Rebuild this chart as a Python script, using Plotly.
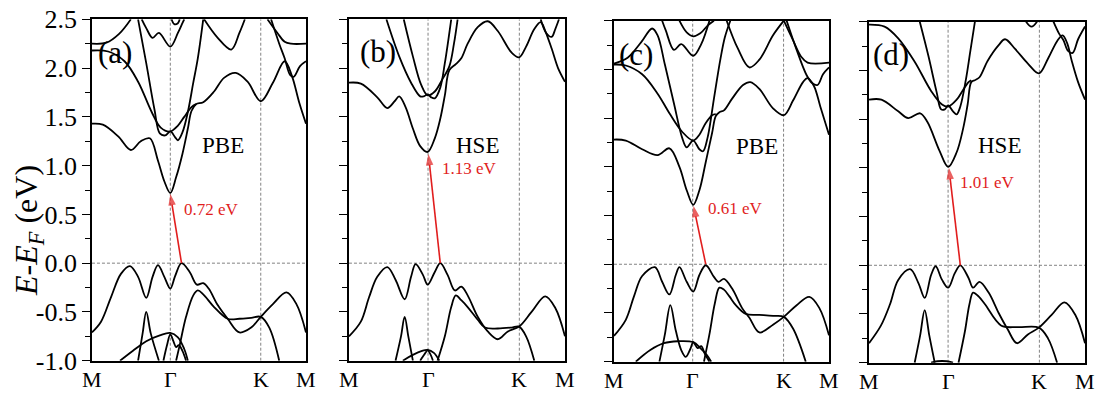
import plotly.graph_objects as go

# ---------------- axis values ----------------
K_TICKS = [0.0, 0.866, 1.866, 2.366]
K_LABELS = ["M", "Γ", "K", "M"]
E_TICKS = [-1.0, -0.5, 0.0, 0.5, 1.0, 1.5, 2.0, 2.5]
E_LABELS = ["-1.0", "-0.5", "0.0", "0.5", "1.0", "1.5", "2.0", "2.5"]

# ---------------- panel (a) PBE ----------------
A_VB1 = [(0, -0.71), (0.10, -0.60), (0.21, -0.35), (0.32, -0.11), (0.42, -0.03), (0.51, -0.14), (0.60, -0.355),
         (0.67, -0.14), (0.73, -0.02), (0.80, -0.14), (0.866, -0.26), (0.92, -0.13), (0.99, 0.0), (1.08, -0.09),
         (1.16, -0.22), (1.23, -0.205), (1.29, -0.26), (1.39, -0.43), (1.50, -0.57), (1.63, -0.71), (1.76, -0.66),
         (1.866, -0.55), (2.00, -0.42), (2.15, -0.30), (2.26, -0.42), (2.366, -0.71)]
A_VB2 = [(0.93, -1.0), (0.97, -0.84), (1.04, -0.55), (1.12, -0.33), (1.17, -0.28), (1.23, -0.32), (1.35, -0.45),
         (1.50, -0.57), (1.63, -0.57), (1.76, -0.56), (1.866, -0.55), (1.96, -0.66), (2.07, -1.0)]
A_L1 = [(0.31, -1.0), (0.45, -0.90), (0.60, -0.80), (0.75, -0.74), (0.866, -0.715), (0.95, -0.76), (1.02, -0.88), (1.06, -1.0)]
A_L2 = [(0.51, -1.0), (0.56, -0.72), (0.60, -0.50), (0.65, -0.72), (0.74, -1.0)]
A_L3 = [(0.79, -1.0), (0.83, -0.84), (0.866, -0.73), (0.90, -0.80), (0.93, -0.86), (0.96, -0.84), (1.00, -0.90), (1.04, -1.0)]
A_CB1 = [(0, 1.43), (0.12, 1.42), (0.29, 1.30), (0.43, 1.16), (0.54, 1.25), (0.64, 1.28), (0.73, 1.05), (0.80, 0.84),
         (0.866, 0.72), (0.93, 0.88), (1.00, 1.12), (1.06, 1.38), (1.10, 1.56), (1.15, 1.63), (1.23, 1.65), (1.35, 1.76),
         (1.46, 1.90), (1.59, 1.95), (1.72, 1.86), (1.866, 1.66), (2.00, 1.85), (2.13, 2.07), (2.21, 1.92), (2.29, 1.65),
         (2.366, 1.43)]
A_V = [(0, 2.18), (0.18, 2.17), (0.36, 2.07), (0.51, 1.86), (0.66, 1.55), (0.76, 1.39), (0.866, 1.35), (0.95, 1.41),
       (1.02, 1.50), (1.10, 1.60), (1.15, 1.63)]
A_W = [(0.51, 2.50), (0.60, 2.05), (0.69, 1.58), (0.75, 1.33), (0.81, 1.31), (0.866, 1.35), (0.92, 1.29), (0.95, 1.26),
       (1.00, 1.34), (1.06, 1.55), (1.12, 1.85), (1.17, 2.10), (1.23, 2.50)]
A_Q = [(1.98, 2.50), (2.07, 2.25), (2.13, 2.10), (2.19, 1.93), (2.23, 1.91), (2.30, 2.02), (2.366, 2.07)]
A_T1 = [(0, 2.25), (0.16, 2.26), (0.30, 2.35), (0.43, 2.50)]
A_T2 = [(0.55, 2.50), (0.60, 2.41), (0.67, 2.31), (0.74, 2.36), (0.866, 2.22), (0.95, 2.36), (1.00, 2.46), (1.02, 2.50)]
A_T3 = [(1.24, 2.50), (1.39, 2.31), (1.54, 2.19), (1.63, 2.36), (1.69, 2.50)]
A_T4 = [(1.94, 2.50), (2.05, 2.36), (2.13, 2.27), (2.20, 2.25), (2.366, 2.25)]
A_T5 = [(0.88, 2.50), (0.91, 2.45), (0.95, 2.46), (0.97, 2.50)]

# ---------------- panel (b) HSE ----------------
B_VB1 = [(0, -0.75), (0.13, -0.60), (0.22, -0.35), (0.31, -0.14), (0.42, -0.04), (0.51, -0.17), (0.61, -0.37),
         (0.68, -0.14), (0.73, -0.01), (0.81, -0.12), (0.862, -0.22), (0.94, -0.09), (1.00, 0.0), (1.08, -0.12),
         (1.16, -0.28), (1.23, -0.24), (1.30, -0.33), (1.41, -0.55), (1.52, -0.70), (1.63, -0.78), (1.74, -0.70),
         (1.863, -0.65), (2.00, -0.50), (2.15, -0.34), (2.26, -0.46), (2.366, -0.75)]
B_VB2 = [(0.97, -1.0), (1.05, -0.75), (1.12, -0.45), (1.17, -0.33), (1.23, -0.38), (1.30, -0.45), (1.41, -0.58),
         (1.49, -0.66), (1.63, -0.67), (1.78, -0.66), (1.863, -0.65), (1.94, -0.75), (2.03, -1.0)]
B_L1 = [(0.59, -1.0), (0.70, -0.94), (0.80, -0.90), (0.862, -0.89), (0.93, -0.92), (0.99, -1.0)]
B_L2 = [(0.51, -1.0), (0.57, -0.75), (0.61, -0.55), (0.65, -0.75), (0.70, -1.0)]
B_L3 = [(0.78, -1.0), (0.83, -0.93), (0.862, -0.895), (0.89, -0.93), (0.92, -1.0)]
B_CB1 = [(0, 1.85), (0.13, 1.84), (0.31, 1.70), (0.42, 1.59), (0.50, 1.66), (0.55, 1.71), (0.62, 1.60), (0.70, 1.38),
         (0.78, 1.20), (0.862, 1.14), (0.94, 1.28), (1.00, 1.48), (1.05, 1.72), (1.10, 1.98), (1.17, 2.04), (1.23, 2.10),
         (1.30, 2.25), (1.41, 2.42), (1.52, 2.48), (1.63, 2.38), (1.78, 2.16), (1.863, 2.11), (1.94, 2.22), (2.03, 2.40),
         (2.10, 2.47), (2.15, 2.38), (2.22, 2.20), (2.29, 2.00), (2.366, 1.86)]
B_W = [(0.41, 2.50), (0.55, 2.12), (0.68, 1.85), (0.78, 1.71), (0.82, 1.71), (0.862, 1.73), (0.90, 1.70), (0.94, 1.69),
       (1.00, 1.80), (1.05, 2.05), (1.12, 2.50)]
B_V = [(0.60, 2.50), (0.70, 2.12), (0.79, 1.83), (0.862, 1.72), (0.94, 1.76), (1.02, 1.88), (1.10, 2.02), (1.15, 2.25),
       (1.19, 2.50)]
B_Q = [(2.10, 2.50), (2.16, 2.36), (2.22, 2.32), (2.26, 2.40), (2.30, 2.50)]

# ---------------- panel (c) PBE ----------------
C_VB1 = [(0, -0.735), (0.13, -0.57), (0.22, -0.33), (0.31, -0.12), (0.45, -0.03), (0.53, -0.18), (0.61, -0.31),
         (0.68, -0.11), (0.72, -0.03), (0.80, -0.18), (0.872, -0.28), (0.94, -0.11), (1.01, -0.01), (1.10, -0.13),
         (1.15, -0.18), (1.21, -0.15), (1.30, -0.25), (1.41, -0.45), (1.49, -0.55), (1.60, -0.70), (1.75, -0.62),
         (1.869, -0.54), (2.01, -0.42), (2.15, -0.335), (2.26, -0.45), (2.366, -0.73)]
C_VB2 = [(0.99, -1.0), (1.05, -0.72), (1.11, -0.40), (1.16, -0.24), (1.21, -0.26), (1.27, -0.33), (1.34, -0.42),
         (1.45, -0.51), (1.60, -0.52), (1.75, -0.53), (1.869, -0.54), (1.97, -0.66), (2.11, -1.0)]
C_L1 = [(0.24, -1.0), (0.40, -0.88), (0.55, -0.81), (0.70, -0.79), (0.872, -0.80), (0.95, -0.86), (1.02, -0.93), (1.07, -1.0)]
C_L2 = [(0.50, -1.0), (0.56, -0.72), (0.62, -0.42), (0.68, -0.68), (0.74, -0.88), (0.79, -0.95), (0.84, -0.87),
        (0.872, -0.80), (0.92, -0.86), (0.96, -0.84), (1.00, -0.92), (1.05, -1.0)]
C_CB1 = [(0, 1.28), (0.13, 1.27), (0.31, 1.18), (0.48, 1.12), (0.61, 1.19), (0.72, 1.00), (0.80, 0.76), (0.872, 0.61),
         (0.94, 0.76), (1.01, 1.05), (1.08, 1.35), (1.12, 1.52), (1.16, 1.56), (1.21, 1.58), (1.30, 1.70), (1.42, 1.84),
         (1.50, 1.87), (1.60, 1.80), (1.75, 1.60), (1.869, 1.53), (1.97, 1.68), (2.08, 1.87), (2.13, 1.91), (2.20, 1.83),
         (2.27, 1.62), (2.366, 1.33)]
C_V = [(0, 2.05), (0.13, 2.04), (0.31, 1.95), (0.48, 1.75), (0.61, 1.55), (0.75, 1.36), (0.872, 1.27), (0.94, 1.33),
       (1.01, 1.45), (1.08, 1.53), (1.12, 1.54)]
C_W = [(0, 2.06), (0.15, 2.12), (0.30, 2.28), (0.42, 2.42), (0.48, 2.35), (0.56, 2.05), (0.66, 1.65), (0.75, 1.30),
       (0.80, 1.20), (0.872, 1.27), (0.94, 1.18), (0.98, 1.16), (1.03, 1.30), (1.10, 1.70), (1.17, 2.10), (1.22, 2.33),
       (1.28, 2.50)]
C_T1 = [(0.53, 2.50), (0.57, 2.40), (0.66, 2.20), (0.74, 2.26), (0.872, 2.14), (0.96, 2.26), (1.05, 2.50)]
C_T2 = [(0.72, 2.50), (0.80, 2.38), (0.872, 2.34), (0.95, 2.37), (1.03, 2.45), (1.10, 2.50)]
C_T3 = [(1.24, 2.50), (1.36, 2.22), (1.49, 2.02), (1.60, 2.10), (1.75, 2.35), (1.869, 2.50)]
C_T4 = [(1.869, 2.50), (1.97, 2.30), (2.06, 2.13), (2.13, 2.07), (2.366, 2.07)]
C_Q = [(1.90, 2.50), (2.01, 2.20), (2.12, 1.94), (2.18, 1.86), (2.24, 1.84), (2.30, 1.95), (2.366, 2.02)]

# ---------------- panel (d) HSE ----------------
D_VB1 = [(0, -0.80), (0.13, -0.62), (0.23, -0.40), (0.32, -0.15), (0.45, -0.04), (0.54, -0.18), (0.61, -0.335),
         (0.68, -0.10), (0.73, -0.01), (0.80, -0.15), (0.867, -0.23), (0.94, -0.08), (1.00, 0.0), (1.09, -0.13),
         (1.14, -0.23), (1.21, -0.17), (1.31, -0.28), (1.42, -0.49), (1.52, -0.66), (1.62, -0.80), (1.74, -0.71),
         (1.861, -0.64), (2.00, -0.51), (2.14, -0.38), (2.26, -0.51), (2.366, -0.80)]
D_VB2 = [(0.98, -1.0), (1.05, -0.68), (1.10, -0.40), (1.14, -0.28), (1.20, -0.32), (1.27, -0.40), (1.45, -0.62),
         (1.63, -0.635), (1.861, -0.64), (1.96, -0.75), (2.06, -1.0)]
D_L1 = [(0.68, -1.0), (0.75, -0.985), (0.85, -0.985), (0.92, -1.0)]
D_L2 = [(0.50, -1.0), (0.56, -0.72), (0.61, -0.46), (0.66, -0.72), (0.72, -1.0)]
D_CB1 = [(0, 1.70), (0.135, 1.70), (0.32, 1.58), (0.43, 1.51), (0.56, 1.56), (0.64, 1.47), (0.77, 1.18), (0.867, 1.01),
         (0.96, 1.16), (1.03, 1.40), (1.08, 1.65), (1.12, 1.88), (1.16, 1.90), (1.21, 1.93), (1.30, 2.10), (1.42, 2.26),
         (1.49, 2.32), (1.60, 2.22), (1.74, 2.07), (1.861, 1.97), (1.96, 2.12), (2.06, 2.30), (2.12, 2.36), (2.17, 2.28),
         (2.22, 2.10), (2.29, 1.88), (2.366, 1.70)]
D_V = [(0, 2.47), (0.17, 2.45), (0.32, 2.33), (0.50, 2.09), (0.68, 1.79), (0.80, 1.65), (0.867, 1.63), (0.96, 1.70),
       (1.03, 1.80), (1.09, 1.88), (1.12, 1.90)]
D_W = [(0.556, 2.50), (0.65, 2.15), (0.74, 1.78), (0.79, 1.60), (0.83, 1.60), (0.867, 1.64), (0.92, 1.58), (0.96, 1.55),
       (1.00, 1.63), (1.06, 1.90), (1.11, 2.20), (1.16, 2.50)]
D_Q = [(2.02, 2.50), (2.08, 2.38), (2.13, 2.31), (2.18, 2.20), (2.23, 2.18), (2.29, 2.32), (2.366, 2.45)]
D_T1 = [(1.72, 2.50), (1.78, 2.45), (1.84, 2.50)]

PANEL_BANDS = [
    [A_VB1, A_VB2, A_L1, A_L2, A_L3, A_CB1, A_V, A_W, A_Q, A_T1, A_T2, A_T3, A_T4, A_T5],
    [B_VB1, B_VB2, B_L1, B_L2, B_L3, B_CB1, B_W, B_V, B_Q],
    [C_VB1, C_VB2, C_L1, C_L2, C_CB1, C_V, C_W, C_T1, C_T2, C_T3, C_T4, C_Q],
    [D_VB1, D_VB2, D_L1, D_L2, D_CB1, D_V, D_W, D_Q, D_T1],
]

PANEL_TAGS = ["(a)", "(b)", "(c)", "(d)"]
TAG_POS = [(0.25, 2.16), (0.32, 2.17), (0.24, 2.15), (0.24, 2.16)]
METHODS = ["PBE", "HSE", "PBE", "HSE"]
METHOD_POS = [(1.45, 1.21), (1.405, 1.21), (1.57, 1.21), (1.43, 1.23)]
GAP_LABELS = ["0.72 eV", "1.13 eV", "0.61 eV", "1.01 eV"]
GAP_POS = [(1.0, 0.55), (1.0, 0.97), (1.01, 0.57), (0.98, 0.85)]
ARROW_TAIL = [(0.99, 0.0), (1.00, 0.0), (1.01, 0.0), (1.00, 0.0)]
ARROW_HEAD = [(0.866, 0.71), (0.87, 1.12), (0.875, 0.60), (0.875, 1.00)]

# ---------------- layout geometry ----------------
XDOM = [(0.0839, 0.2792), (0.3184, 0.5155), (0.5602, 0.7564), (0.7929, 0.9900)]
YDOM = [(0.0845, 0.951), (0.0845, 0.951), (0.0820, 0.9475), (0.0794, 0.9449)]

FONT = "Liberation Serif, Times New Roman, serif"
RED = "rgb(225,30,30)"
GREY = "rgb(130,130,130)"

fig = go.Figure()
shapes = []
annotations = []

for i, bands in enumerate(PANEL_BANDS):
    sfx = "" if i == 0 else str(i + 1)
    xa, ya = "x" + sfx, "y" + sfx
    for band in bands:
        fig.add_trace(go.Scatter(
            x=[p[0] for p in band], y=[p[1] for p in band], mode="lines",
            line=dict(color="black", width=1.8, shape="spline", smoothing=1.0),
            xaxis=xa, yaxis=ya, hoverinfo="skip", showlegend=False))

    # red band-gap arrow (tail at VBM, tip at CBM)
    fig.add_trace(go.Scatter(
        x=[ARROW_TAIL[i][0], ARROW_HEAD[i][0]], y=[ARROW_TAIL[i][1], ARROW_HEAD[i][1]],
        mode="lines+markers", line=dict(color=RED, width=1.6),
        marker=dict(symbol=["circle", "arrow"], size=[0, 12], angleref="previous", color=RED,
                    line=dict(width=0)),
        xaxis=xa, yaxis=ya, hoverinfo="skip", showlegend=False, cliponaxis=False))

    # dashed guides
    for kv in (K_TICKS[1], K_TICKS[2]):
        shapes.append(dict(type="line", xref=xa, yref=ya, x0=kv, x1=kv, y0=E_TICKS[0], y1=E_TICKS[-1],
                           line=dict(color=GREY, width=1, dash="3px,2px"), layer="below"))
    shapes.append(dict(type="line", xref=xa, yref=ya, x0=K_TICKS[0], x1=K_TICKS[-1], y0=0, y1=0,
                       line=dict(color=GREY, width=1, dash="3px,2px"), layer="below"))

    annotations.append(dict(xref=xa, yref=ya, x=TAG_POS[i][0], y=TAG_POS[i][1], text=PANEL_TAGS[i],
                            showarrow=False, font=dict(family=FONT, size=31, color="black")))
    annotations.append(dict(xref=xa, yref=ya, x=METHOD_POS[i][0], y=METHOD_POS[i][1], text=METHODS[i],
                            showarrow=False, font=dict(family=FONT, size=23, color="black")))
    annotations.append(dict(xref=xa, yref=ya, x=GAP_POS[i][0], y=GAP_POS[i][1], text=GAP_LABELS[i],
                            xanchor="left", showarrow=False, font=dict(family=FONT, size=17, color=RED)))

    # high-symmetry point labels under the panel
    for kv, lab in zip(K_TICKS, K_LABELS):
        annotations.append(dict(xref=xa, yref=ya + " domain", x=kv, y=0, yanchor="middle", xanchor="center",
                                yshift=-19, text=lab, showarrow=False,
                                font=dict(family=FONT, size=22, color="black")))

    xaxis = dict(domain=list(XDOM[i]), anchor=ya, range=[K_TICKS[0], K_TICKS[-1]], automargin=False,
                 tickmode="array", tickvals=K_TICKS, ticks="", showticklabels=False,
                 showline=True, linecolor="black", linewidth=1.5, mirror=True,
                 showgrid=False, zeroline=False)
    yaxis = dict(domain=list(YDOM[i]), anchor=xa, range=[E_TICKS[0], E_TICKS[-1]], automargin=False,
                 tickmode="array", tickvals=E_TICKS, ticktext=E_LABELS, ticks="outside", ticklen=8,
                 tickwidth=1.3, tickcolor="black",
                 minor=dict(tickmode="linear", tick0=-1.0, dtick=0.25, ticks="outside", ticklen=5,
                            tickwidth=1.3, tickcolor="black", showgrid=False),
                 showticklabels=(i == 0),
                 showline=True, linecolor="black", linewidth=1.5, mirror=True,
                 showgrid=False, zeroline=False,
                 tickfont=dict(family=FONT, size=26, color="black"))
    fig.update_layout({"xaxis" + sfx: xaxis, "yaxis" + sfx: yaxis})

annotations.append(dict(xref="paper", yref="paper", x=0.026, y=0.415, xanchor="center", yanchor="middle",
                        text="<i>E</i>-<i>E</i><sub><i>F</i></sub> (eV)", textangle=-90,
                        showarrow=False, font=dict(family=FONT, size=32, color="black")))

fig.update_layout(width=1096, height=394, margin=dict(l=0, r=0, t=0, b=0),
                  paper_bgcolor="white", plot_bgcolor="white",
                  shapes=shapes, annotations=annotations, showlegend=False)

fig.write_html("out.html")
